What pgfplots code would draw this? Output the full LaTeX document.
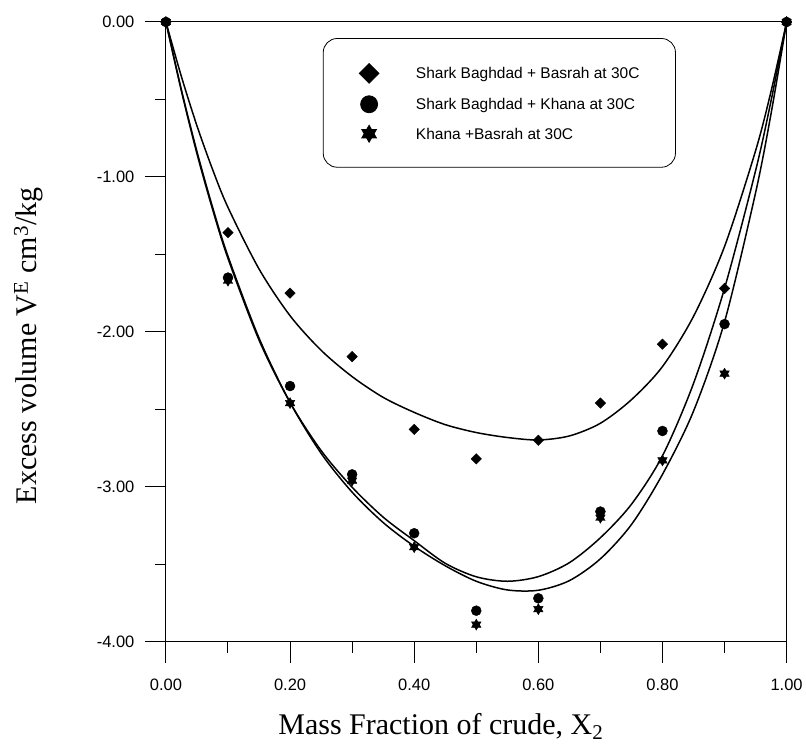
\documentclass[border=0pt]{standalone}
\usepackage{fontspec}
\setmainfont{Liberation Serif}
\newfontfamily\arial{Liberation Sans}
\usepackage{pgfplots}
\pgfplotsset{compat=1.18}

\pgfdeclareplotmark{sixstar}{%
  \pgfpathmoveto{\pgfqpoint{0pt}{\pgfplotmarksize}}%
  \pgfpathlineto{\pgfqpoint{0.866\pgfplotmarksize}{-0.5\pgfplotmarksize}}%
  \pgfpathlineto{\pgfqpoint{-0.866\pgfplotmarksize}{-0.5\pgfplotmarksize}}%
  \pgfpathclose
  \pgfpathmoveto{\pgfqpoint{0pt}{-\pgfplotmarksize}}%
  \pgfpathlineto{\pgfqpoint{-0.866\pgfplotmarksize}{0.5\pgfplotmarksize}}%
  \pgfpathlineto{\pgfqpoint{0.866\pgfplotmarksize}{0.5\pgfplotmarksize}}%
  \pgfpathclose
  \pgfusepathqfillstroke
}

\begin{document}
\begin{tikzpicture}
\begin{axis}[
  name=ax,
  width=621pt, height=620pt, scale only axis,
  xmin=0, xmax=1, ymin=-4, ymax=0,
  clip=false,
  axis line style={line width=1pt, black},
  tick pos=left, tick align=outside,
  xtick={0,0.2,0.4,0.6,0.8,1},
  xticklabels={0.00,0.20,0.40,0.60,0.80,1.00},
  ytick={-4,-3,-2,-1,0},
  yticklabels={-4.00,-3.00,-2.00,-1.00,0.00},
  minor xtick={0.1,0.3,0.5,0.7,0.9},
  minor ytick={-3.5,-2.5,-1.5,-0.5},
  major tick length=21pt, minor tick length=11pt,
  every tick/.style={black, line width=1pt},
  tick label style={font=\arial\fontsize{16.5}{18}\selectfont},
  yticklabel style={xshift=-7pt},
  xticklabel style={yshift=-13pt},
  xlabel={Mass Fraction of crude, X\textsubscript{2}},
  ylabel={Excess volume V\textsuperscript{E} cm\textsuperscript{3}/kg},
  every axis x label/.style={at={(axis description cs:0.1755,-0.15)}, anchor=base west, font=\fontsize{30}{34}\selectfont},
  every axis y label/.style={at={(axis description cs:-0.2077,0.216)}, rotate=90, anchor=base west, font=\fontsize{30}{34}\selectfont},
  legend image code/.code={\draw[#1] plot coordinates {(0pt,0pt)};},
  legend cell align=left,
  legend style={at={(axis description cs:0.2528,0.974)}, anchor=north west,
    draw=black, line width=0.8pt, rounded corners=14pt,
    inner xsep=36pt, inner ysep=25pt, row sep=12.5pt, column sep=37pt,
    font=\arial\fontsize{15.5}{18}\selectfont,
    nodes={inner sep=0pt, text height=12pt, text depth=1pt}},
]
% fitted curves (read from the figure)
\addplot[black, line width=1.5pt, smooth, forget plot] coordinates {
(0,0) (0.025,-0.353) (0.05,-0.670) (0.075,-0.950) (0.1,-1.197) (0.15,-1.594)
(0.2,-1.896) (0.25,-2.119) (0.3,-2.289) (0.35,-2.423) (0.4,-2.520) (0.45,-2.599)
(0.5,-2.650) (0.55,-2.682) (0.6,-2.698) (0.65,-2.672) (0.7,-2.590) (0.75,-2.438)
(0.8,-2.224) (0.85,-1.900) (0.9,-1.449) (0.95,-0.831) (0.975,-0.446) (1,0)};
\addplot[black, line width=1.5pt, smooth, forget plot] coordinates {
(0,0) (0.025,-0.446) (0.05,-0.850) (0.075,-1.207) (0.1,-1.526) (0.15,-2.053)
(0.2,-2.456) (0.25,-2.766) (0.3,-3.003) (0.35,-3.196) (0.4,-3.348) (0.45,-3.494)
(0.5,-3.581) (0.55,-3.610) (0.6,-3.580) (0.65,-3.490) (0.7,-3.329) (0.75,-3.113)
(0.8,-2.800) (0.85,-2.333) (0.9,-1.719) (0.95,-0.960) (0.975,-0.507) (1,0)};
\addplot[black, line width=1.5pt, smooth, forget plot] coordinates {
(0,0) (0.025,-0.439) (0.05,-0.836) (0.075,-1.193) (0.1,-1.512) (0.15,-2.040)
(0.2,-2.456) (0.25,-2.784) (0.3,-3.035) (0.35,-3.231) (0.4,-3.384) (0.45,-3.510)
(0.5,-3.610) (0.55,-3.666) (0.6,-3.668) (0.65,-3.606) (0.7,-3.465) (0.75,-3.244)
(0.8,-2.920) (0.85,-2.512) (0.9,-1.935) (0.95,-1.102) (0.975,-0.590) (1,0)};
% data
\addplot[only marks, mark=square*, mark size=3.7pt, mark options={rotate=45, black, fill=black}, forget plot] coordinates {
(0,0) (0.1,-1.36) (0.2,-1.75) (0.3,-2.16) (0.4,-2.63) (0.5,-2.82) (0.6,-2.70) (0.7,-2.46) (0.8,-2.08) (0.9,-1.72) (1,0)};
\addplot[only marks, mark=sixstar, mark size=5.5pt, mark options={black, fill=black}, forget plot] coordinates {
(0,0) (0.1,-1.67) (0.2,-2.46) (0.3,-2.96) (0.4,-3.39) (0.5,-3.89) (0.6,-3.79) (0.7,-3.20) (0.8,-2.83) (0.9,-2.27) (1,0)};
\addplot[only marks, mark=*, mark size=5pt, mark options={black, fill=black}, forget plot] coordinates {
(0,0) (0.1,-1.65) (0.2,-2.35) (0.3,-2.92) (0.4,-3.30) (0.5,-3.80) (0.6,-3.72) (0.7,-3.16) (0.8,-2.64) (0.9,-1.95) (1,0)};
% legend
\addlegendimage{only marks, mark=square*, mark size=7pt, mark options={rotate=45, black, fill=black}}
\addlegendentry{Shark Baghdad + Basrah at 30C}
\addlegendimage{only marks, mark=*, mark size=8.5pt, mark options={black, fill=black}}
\addlegendentry{Shark Baghdad + Khana at 30C}
\addlegendimage{only marks, mark=sixstar, mark size=8.5pt, mark options={black, fill=black}}
\addlegendentry{Khana +Basrah at 30C}
\end{axis}
\path[use as bounding box] ([shift={(-166pt,-100pt)}]ax.south west) rectangle ([shift={(19pt,22pt)}]ax.north east);
\end{tikzpicture}
\end{document}
